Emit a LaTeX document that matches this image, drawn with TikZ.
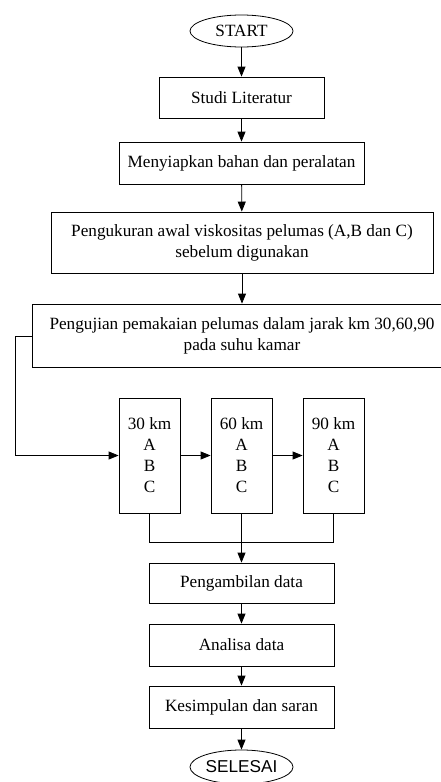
\documentclass[tikz,border=0pt]{standalone}
\usepackage{fontspec}
\setmainfont{Liberation Serif}
\newfontfamily\arialfont{Liberation Sans}
\usetikzlibrary{shapes.geometric,arrows.meta}
\begin{document}
\begin{tikzpicture}[x=1pt,y=-1pt,
  every node/.style={font=\fontsize{17.2}{21}\selectfont, inner sep=0pt},
  box/.style={draw, line width=0.8pt, rectangle, align=center},
  term/.style={draw, line width=0.8pt, ellipse, minimum width=103pt, minimum height=32pt},
  arr/.style={line width=0.8pt, -{Triangle[length=10pt,width=8pt]}},
  ln/.style={line width=0.8pt}]
\useasboundingbox (0,0) rectangle (441,782);
\node[term] (start) at (241.5,31) {START};
\node[box, minimum width=165pt, minimum height=41pt] (studi) at (241.5,97.5) {Studi Literatur};
\node[box, minimum width=245pt, minimum height=42pt] (siap) at (241.5,163) {Menyiapkan bahan dan peralatan};
\node[box, minimum width=382pt, minimum height=61pt] (ukur) at (242,242.5) {Pengukuran awal viskositas pelumas (A,B dan C)\\sebelum digunakan};
\node[box, minimum width=420pt, minimum height=63pt] (uji) at (242,335.5) {Pengujian pemakaian pelumas dalam jarak km 30,60,90\\pada suhu kamar};
\node[box, minimum width=61pt, minimum height=115pt] (km30) at (149.5,455.5) {30 km\\A\\B\\C};
\node[box, minimum width=61pt, minimum height=115pt] (km60) at (241.5,455.5) {60 km\\A\\B\\C};
\node[box, minimum width=61pt, minimum height=115pt] (km90) at (333.5,455.5) {90 km\\A\\B\\C};
\node[box, minimum width=185pt, minimum height=40pt] (ambil) at (241.5,583) {Pengambilan data};
\node[box, minimum width=185pt, minimum height=42pt] (analisa) at (241.5,645) {Analisa data};
\node[box, minimum width=185pt, minimum height=42pt] (simpul) at (241.5,707) {Kesimpulan dan saran};
\node[term, minimum height=34pt, font=\arialfont\fontsize{17.2}{21}\selectfont] (selesai) at (241.5,767) {SELESAI};
\coordinate (l1) at (15,336);
\coordinate (l2) at (15,455.5);
\coordinate (m1) at (149.5,542);
\coordinate (m2) at (333.5,542);
\draw[arr] (start) -- (studi);
\draw[arr] (studi) -- (siap);
\draw[arr] (siap) -- (ukur);
\draw[arr] (ukur.south) -- (uji.north -| ukur.south);
\draw[arr] (uji.west |- l1) -- (l1) -- (l2) -- (km30.west);
\draw[arr] (km30) -- (km60);
\draw[arr] (km60) -- (km90);
\draw[ln] (km30.south) -- (m1) -- (m2) -- (km90.south);
\draw[arr] (km60.south) -- (ambil.north);
\draw[arr] (ambil) -- (analisa);
\draw[arr] (analisa) -- (simpul);
\draw[arr] (simpul) -- (selesai);
\end{tikzpicture}
\end{document}
